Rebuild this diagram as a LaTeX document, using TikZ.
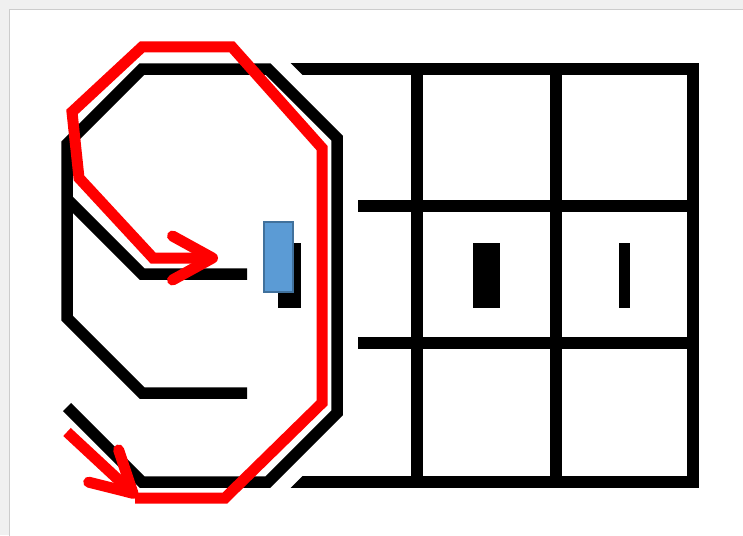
\documentclass[tikz,border=0pt]{standalone}
\usetikzlibrary{arrows.meta}

\definecolor{robotfill}{HTML}{5B9BD5}
\definecolor{robotedge}{HTML}{41719C}

\begin{document}
\begin{tikzpicture}[x=1pt, y=-1pt,
        wall/.style={line width=11.5pt, black},
        halo/.style={line width=40pt, white},
        route/.style={line width=11pt, red},
        hop/.style={-{Straight Barb[length=40pt, width=44pt, round]}}]
        \useasboundingbox (0,0) rectangle (743,535);
        \fill[gray!12] (0,0) rectangle (743,535);
        \filldraw[fill=white, draw=gray!40, line width=1pt] (9.5,9.5) rectangle (750,545);

        % grid
        \draw[wall] (280,69) -- (693,69) -- (693,482) -- (280,482);
        \draw[wall] (358,206) -- (693,206);
        \draw[wall] (358,343) -- (693,343);
        \draw[wall] (417,69) -- (417,482);
        \draw[wall] (556,69) -- (556,482);
        \fill (473,243) rectangle (500,308);
        \fill (619,243) rectangle (630,308);

        % the nine
        \draw[halo] (268,69) -- (337,138) -- (337,413) -- (268,482);
        \draw[wall] (67,407) -- (142,482) -- (268,482) -- (337,413) -- (337,138) -- (268,69)
            -- (142,69) -- (67,144) -- (67,318) -- (142,393) -- (247,393);
        \draw[wall] (67,199) -- (142,274) -- (247,274);
        \fill (278,243) rectangle (301,308);
        \filldraw[fill=robotfill, draw=robotedge, line width=1.5pt] (264,222) rectangle (293,292);

        % route
        \draw[route, hop] (67,432) -- (137,497);
        \draw[route, hop] (135,498) -- (225,498) -- (322,403) -- (322,148) -- (232,47) -- (142,47)
            -- (72,112) -- (79,178) -- (153,258) -- (218,258);
\end{tikzpicture}
\end{document}
